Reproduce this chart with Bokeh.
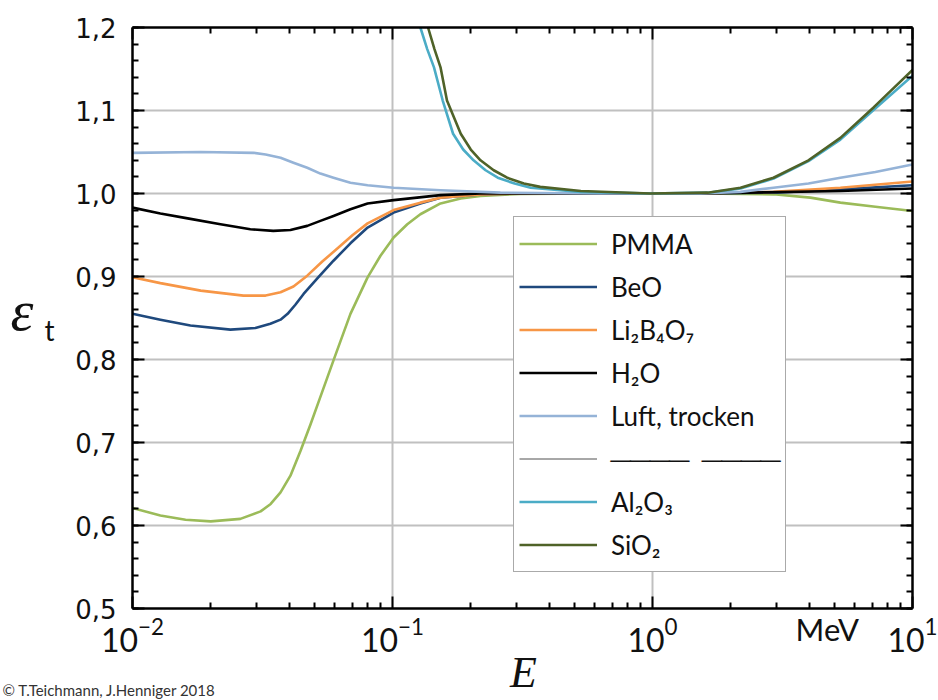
import numpy as np
from bokeh.plotting import figure
from bokeh.models import (FixedTicker, LinearAxis, LogAxis, CustomJSTickFormatter,
                          Legend, LegendItem, Label)
from bokeh.embed import file_html
from bokeh.resources import INLINE

# ---------------- data ----------------
E_PMMA = [0.0100, 0.0128, 0.0160, 0.0200, 0.0260, 0.0311, 0.0340, 0.0371, 0.0405, 0.0443,
          0.0484, 0.0528, 0.0593, 0.0689, 0.0802, 0.0899, 0.101, 0.114, 0.128, 0.153,
          0.183, 0.218, 0.310, 0.63, 1.53, 2.92, 4.05, 5.28, 7.2, 10.0]
eps_PMMA = [0.621, 0.612, 0.607, 0.605, 0.608, 0.617, 0.626, 0.640, 0.660, 0.690,
            0.722, 0.755, 0.799, 0.855, 0.899, 0.925, 0.947, 0.963, 0.975, 0.988,
            0.994, 0.997, 0.9995, 1.0, 1.0, 0.999, 0.995, 0.989, 0.984, 0.979]

E_BeO = [0.0100, 0.0128, 0.0167, 0.0238, 0.0297, 0.0339, 0.0371, 0.0395, 0.0423, 0.0455,
         0.0518, 0.0593, 0.0689, 0.0802, 0.101, 0.128, 0.153, 0.218, 0.310, 1.53, 2.92,
         5.28, 10.0]
eps_BeO = [0.855, 0.848, 0.841, 0.836, 0.838, 0.843, 0.848, 0.855, 0.866, 0.879,
           0.899, 0.919, 0.940, 0.959, 0.977, 0.988, 0.995, 0.999, 1.0, 1.0, 1.001,
           1.005, 1.010]

E_LiBO = [0.0100, 0.0128, 0.0183, 0.0267, 0.0325, 0.0371, 0.0416, 0.0470, 0.0537, 0.0615,
          0.0703, 0.0802, 0.101, 0.128, 0.153, 0.218, 0.310, 1.53, 2.92, 5.28, 10.0]
eps_LiBO = [0.899, 0.892, 0.883, 0.877, 0.877, 0.881, 0.888, 0.901, 0.918, 0.934,
            0.950, 0.964, 0.980, 0.989, 0.995, 0.999, 1.0, 1.0, 1.002, 1.007, 1.0145]

E_H2O = [0.0100, 0.0128, 0.0163, 0.0218, 0.0284, 0.0348, 0.0405, 0.0470, 0.0528, 0.0593,
         0.0689, 0.0802, 0.101, 0.153, 0.218, 1.53, 5.28, 10.0]
eps_H2O = [0.983, 0.976, 0.970, 0.963, 0.957, 0.955, 0.956, 0.961, 0.967, 0.973,
           0.981, 0.988, 0.992, 0.998, 1.0, 1.0, 1.003, 1.006]

E_Luft = [0.0100, 0.0183, 0.0292, 0.0325, 0.0371, 0.0416, 0.0470, 0.0528, 0.0593, 0.0689,
          0.0802, 0.101, 0.153, 0.26, 0.63, 1.53, 2.18, 2.92, 3.98, 5.28, 7.2, 10.0]
eps_Luft = [1.049, 1.050, 1.049, 1.047, 1.043, 1.037, 1.031, 1.024, 1.019, 1.013,
            1.010, 1.007, 1.004, 1.001, 1.0, 1.0, 1.002, 1.007, 1.012, 1.019, 1.026, 1.035]

E_Al2O3 = [0.125, 0.128, 0.136, 0.1444, 0.156, 0.171, 0.187, 0.205, 0.228, 0.254, 0.295,
           0.34, 0.53, 0.98, 1.63, 2.18, 2.92, 3.98, 5.28, 7.1, 10.0]
eps_Al2O3 = [1.21, 1.20, 1.174, 1.152, 1.112, 1.072, 1.053, 1.040, 1.028, 1.019, 1.012,
             1.007, 1.002, 1.0, 1.001, 1.006, 1.018, 1.039, 1.065, 1.101, 1.142]

E_SiO2 = [0.134, 0.137, 0.145, 0.153, 0.162, 0.183, 0.200, 0.218, 0.245, 0.276, 0.320,
          0.37, 0.53, 0.98, 1.63, 2.18, 2.92, 3.98, 5.28, 7.1, 10.0]
eps_SiO2 = [1.21, 1.20, 1.174, 1.152, 1.112, 1.072, 1.053, 1.040, 1.028, 1.019, 1.012,
            1.008, 1.003, 1.0, 1.001, 1.007, 1.019, 1.040, 1.067, 1.104, 1.149]

series_names = ["PMMA", "BeO", "Li\u2082B\u2084O\u2087", "H\u2082O", "Luft, trocken",
                "Al\u2082O\u2083", "SiO\u2082"]
series_colors = ["#9BBB59", "#1F497D", "#F79646", "#000000", "#95B3D7", "#4BACC6", "#4F6228"]

x_major_ticks = [0.01, 0.1, 1.0, 10.0]
x_minor_ticks = [m * d for d in (0.01, 0.1, 1.0) for m in range(2, 10)]
x_grid_ticks = [0.1, 1.0]
unit_tick = 4.7            # where the unit "MeV" sits on the energy axis
y_major_ticks = [0.5, 0.6, 0.7, 0.8, 0.9, 1.0, 1.1, 1.2]
y_minor_ticks = [round(0.5 + 0.02 * i, 2) for i in range(36)]

# ---------------- figure ----------------
p = figure(width=938, height=700, x_axis_type="log", x_range=(0.01, 10), y_range=(0.5, 1.2),
           output_backend="svg", toolbar_location=None,
           min_border_left=132, min_border_right=26, min_border_top=27, min_border_bottom=92)
p.outline_line_color = None
p.background_fill_color = "white"
p.border_fill_color = "white"

bottom_axis = p.below[0]
left_axis = p.left[0]

yt = FixedTicker(ticks=y_major_ticks, minor_ticks=y_minor_ticks)
left_axis.ticker = yt
left_axis.formatter = CustomJSTickFormatter(code="return tick.toFixed(1).replace('.', ',');")

bottom_axis.ticker = FixedTicker(ticks=x_major_ticks, minor_ticks=x_minor_ticks)

right_axis = LinearAxis(ticker=yt)
top_axis = LogAxis(ticker=FixedTicker(ticks=x_major_ticks, minor_ticks=x_minor_ticks))
p.add_layout(right_axis, "right")
p.add_layout(top_axis, "above")

for ax in [bottom_axis, left_axis, right_axis, top_axis]:
    ax.axis_line_color = "black"
    ax.axis_line_width = 2.5
    ax.major_tick_line_color = "black"
    ax.major_tick_line_width = 2
    ax.minor_tick_line_color = "black"
    ax.minor_tick_line_width = 2
    ax.major_tick_in = 12
    ax.major_tick_out = 0
    ax.minor_tick_in = 6
    ax.minor_tick_out = 0

for ax in [right_axis, top_axis]:
    ax.major_label_text_font_size = "0px"
    ax.major_label_text_alpha = 0
    ax.major_label_standoff = 0

left_axis.major_label_text_font = "DejaVu Sans"
left_axis.major_label_text_font_size = "26px"
left_axis.major_label_text_color = "#111111"
left_axis.major_label_standoff = 16

bottom_axis.major_label_text_font = "Lato"
bottom_axis.major_label_text_font_size = "32px"
bottom_axis.major_label_text_color = "#111111"
bottom_axis.major_label_standoff = 9

# second axis below, only carrying the unit, lifted into the tick-label row
unit_axis = LogAxis(ticker=FixedTicker(ticks=[unit_tick], minor_ticks=[]),
                    major_label_overrides={unit_tick: "MeV"})
unit_axis.axis_line_color = None
unit_axis.major_tick_line_color = None
unit_axis.minor_tick_line_color = None
unit_axis.major_tick_in = 0
unit_axis.major_tick_out = 0
unit_axis.major_label_standoff = -45
unit_axis.major_label_text_font = "Lato"
unit_axis.major_label_text_font_size = "31px"
unit_axis.major_label_text_color = "#111111"
p.add_layout(unit_axis, "below")

p.xgrid.ticker = FixedTicker(ticks=x_grid_ticks)
p.xgrid.grid_line_color = "#C0C0C0"
p.xgrid.grid_line_width = 2
p.ygrid.ticker = yt
p.ygrid.grid_line_color = "#C0C0C0"
p.ygrid.grid_line_width = 2

# ---------------- curves ----------------
data = [(E_PMMA, eps_PMMA), (E_BeO, eps_BeO), (E_LiBO, eps_LiBO), (E_H2O, eps_H2O),
        (E_Luft, eps_Luft), (E_Al2O3, eps_Al2O3), (E_SiO2, eps_SiO2)]
renderers = []
for (xs, ys), c in zip(data, series_colors):
    r = p.line(xs, ys, line_color=c, line_width=2.6, line_join="round")
    renderers.append(r)

# separator row of the legend (a thin grey line, no data)
sep = p.line([np.nan], [np.nan], line_color="#505050", line_width=1)

items = [LegendItem(label=n, renderers=[r]) for n, r in zip(series_names[:5], renderers[:5])]
items.append(LegendItem(label="\u2500\u2500\u2500\u2500\u00a0\u00a0\u2500\u2500\u2500\u2500",
                        renderers=[sep]))
items += [LegendItem(label=n, renderers=[r]) for n, r in zip(series_names[5:], renderers[5:])]

legend = Legend(items=items, location=(381, 36))
legend.label_text_font = "Lato"
legend.label_text_font_size = "26px"
legend.label_text_color = "#111111"
legend.glyph_width = 78
legend.glyph_height = 43
legend.label_height = 43
legend.label_standoff = 14
legend.spacing = 0
legend.padding = 5
legend.margin = 0
legend.border_line_color = "#555555"
legend.border_line_width = 1.5
legend.background_fill_color = "white"
legend.background_fill_alpha = 1.0
p.add_layout(legend, "center")

# ---------------- texts outside the frame (side panels, canvas units) ----------------
def canvas_label(text, x, y, font, size, style="normal", align="left", color="#111111"):
    return Label(x=x, y=y, x_units="canvas", y_units="canvas", text=text,
                 text_align=align, text_baseline="alphabetic", text_font=font,
                 text_font_size=size, text_font_style=style, text_color=color)

p.add_layout(canvas_label("\u03b5", 10, 310, "Liberation Serif", "58px", "italic"), "left")
p.add_layout(canvas_label("t", 44, 329, "Lato", "28px"), "left")
p.add_layout(canvas_label("E", 523, 672, "Liberation Serif", "44px", "italic", "center"), "left")
p.add_layout(canvas_label("\u00a9 T.Teichmann, J.Henniger 2018", 2, 689, "Lato", "15px",
                          color="#333333"), "below")

open("out.html", "w").write(file_html(p, INLINE))
